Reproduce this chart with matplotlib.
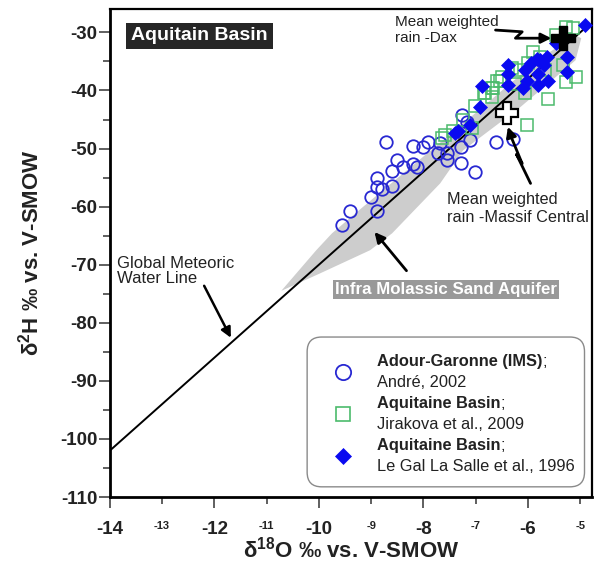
import matplotlib
matplotlib.use("Agg")
import matplotlib.pyplot as plt
from matplotlib.patches import Polygon, FancyBboxPatch
from matplotlib.ticker import FixedLocator, MultipleLocator, NullFormatter

plt.rcParams['font.family'] = ['Liberation Sans', 'DejaVu Sans']
plt.rcParams['axes.unicode_minus'] = False
plt.rcParams['mathtext.fontset'] = 'custom'
plt.rcParams['mathtext.rm'] = 'Liberation Sans'
plt.rcParams['mathtext.bf'] = 'Liberation Sans:bold'

# ---- data -------------------------------------------------------------
# Adour-Garonne (IMS); André, 2002
adour_o18 = [-9.56, -9.40, -9.00, -8.89, -8.79, -8.89, -8.60, -8.89, -8.60, -8.50,
             -8.39, -8.71, -8.20, -8.20, -8.12, -8.00, -7.91, -7.72, -7.54, -7.54,
             -7.29, -7.01, -7.29, -7.26, -7.16, -6.62, -6.28, -7.10, -7.68]
adour_h2 = [-63.2, -60.8, -58.4, -56.7, -56.9, -55.1, -56.5, -60.8, -53.8, -51.9,
            -53.1, -48.8, -49.6, -52.7, -53.2, -49.8, -48.8, -50.7, -50.7, -52.0,
            -52.5, -54.1, -49.8, -44.3, -45.5, -48.8, -48.4, -48.6, -49.1]

# Aquitaine Basin; Jirakova et al., 2009
jirakova_o18 = [-5.13, -5.28, -5.47, -5.90, -5.76, -5.99, -6.15, -6.30, -6.49, -6.59,
                -6.66, -6.85, -6.24, -6.05, -5.61, -5.28, -5.09, -5.32, -5.67, -6.01,
                -7.58, -7.64, -7.43, -7.01, -6.82, -6.68, -6.53, -7.24, -7.07, -6.68]
jirakova_h2 = [-29.3, -29.0, -30.5, -33.4, -34.3, -35.2, -36.5, -36.2, -37.7, -38.3,
               -39.6, -40.5, -38.8, -40.5, -41.4, -38.6, -37.7, -35.7, -36.5, -46.0,
               -47.7, -48.1, -46.9, -42.6, -40.5, -39.5, -38.3, -45.1, -46.4, -41.2]

# Aquitaine Basin; Le Gal La Salle et al., 1996
legal_o18 = [-4.90, -5.47, -5.25, -5.25, -5.76, -5.82, -5.63, -5.70, -5.95, -6.38,
             -6.38, -6.05, -5.80, -5.61, -6.01, -6.09, -6.39, -5.80, -6.87, -6.91,
             -7.10, -7.33, -7.39]
legal_h2 = [-28.8, -31.9, -34.3, -36.9, -34.8, -34.5, -34.3, -35.7, -35.2, -35.7,
            -37.1, -36.5, -37.1, -38.3, -38.3, -39.6, -39.1, -39.1, -39.3, -42.9,
            -46.0, -46.9, -47.4]

# Mean weighted rain
dax_o18, dax_h2 = -5.32, -30.9
massif_o18, massif_h2 = -6.41, -43.9

# Global Meteoric Water Line: d2H = 8 d18O + 10
gmwl_slope, gmwl_intercept = 8.0, 10.0
gmwl_range = [-14.0, -4.9]

# Infra Molassic Sand Aquifer envelope (d18O, d2H)
aquifer_o18 = [-10.72, -10.05, -9.75, -9.15, -8.35, -7.15, -6.30, -5.60, -5.10,
               -4.98, -5.09, -6.15, -7.24, -7.68, -8.60, -9.02, -9.98]
aquifer_h2 = [-74.5, -67.5, -64.6, -60.0, -54.0, -45.0, -38.5, -33.5, -30.5,
              -31.0, -34.8, -42.9, -50.3, -56.0, -64.6, -67.5, -71.5]

x_major = [-14, -12, -10, -8, -6]
x_minor = [-13, -11, -9, -7, -5]
y_major = [-110, -100, -90, -80, -70, -60, -50, -40, -30]

# ---- figure -----------------------------------------------------------
TXT = '#222222'
fig = plt.figure(figsize=(5.97, 5.72), dpi=100)
ax = fig.add_axes([0.184, 0.131, 0.808, 0.853])
ax.set_xlim(-14, -4.77)
ax.set_ylim(-110, -26.0)

# aquifer envelope
ax.add_patch(Polygon(list(zip(aquifer_o18, aquifer_h2)), closed=True,
                     facecolor='#cdcdcd', edgecolor='none', zorder=1))

# GMWL
gx = gmwl_range
gy = [gmwl_slope * v + gmwl_intercept for v in gx]
ax.plot(gx, gy, color='black', lw=1.4, zorder=2)

ax.plot(adour_o18, adour_h2, 'o', ms=9, mfc='none', mec='#2828d2', mew=1.3, zorder=3)
ax.plot(jirakova_o18, jirakova_h2, 's', ms=8, mfc='none', mec='#4cbb6c', mew=1.1, zorder=4)
ax.plot(legal_o18, legal_h2, 'D', ms=6.8, mfc='#0a0af0', mec='#0a0af0', mew=0.5, zorder=5)

ax.plot(dax_o18, dax_h2, 'P', ms=17, mfc='black', mec='black', mew=1, zorder=7)
ax.plot(massif_o18, massif_h2, 'P', ms=16, mfc='white', mec='black', mew=1.6, zorder=7)

# ---- annotations ------------------------------------------------------
arrow_kw = dict(arrowstyle='-|>,head_length=0.6,head_width=0.3', color='black', lw=2)

ax.text(-8.54, -29.6, "Mean weighted\nrain -Dax", fontsize=11, color=TXT,
        va='center', ha='left', linespacing=1.15, zorder=8)
ax.plot([-6.62, -6.11, -6.24, -5.70], [-29.6, -29.9, -31.0, -31.0],
        color='black', lw=2, zorder=8, solid_capstyle='round')
ax.annotate("", xy=(-5.50, -31.0), xytext=(-5.75, -31.0), arrowprops=arrow_kw, zorder=8)

ax.text(-7.54, -60.3, "Mean weighted\nrain -Massif Central", fontsize=11.7, color=TXT,
        va='center', ha='left', linespacing=1.2, zorder=8)
ax.plot([-5.95, -6.22, -6.11, -6.33], [-56.0, -51.0, -52.6, -47.8],
        color='black', lw=2, zorder=8, solid_capstyle='round')
ax.annotate("", xy=(-6.40, -45.8), xytext=(-6.32, -48.0), arrowprops=arrow_kw, zorder=8)

ax.text(-13.87, -71.1, "Global Meteoric\nWater Line", fontsize=12, color=TXT,
        va='center', ha='left', linespacing=1.05, zorder=8)
ax.annotate("", xy=(-11.66, -83.0), xytext=(-12.22, -73.2),
            arrowprops=dict(arrow_kw, lw=1.8), zorder=8)

ax.text(-7.56, -74.2, "Infra Molassic Sand Aquifer", fontsize=12.2, fontweight='bold',
        color='white', ha='center', va='center', zorder=8,
        bbox=dict(boxstyle='square,pad=0.12', facecolor='#999999', edgecolor='none'))
ax.annotate("", xy=(-8.97, -64.0), xytext=(-8.29, -71.4), arrowprops=arrow_kw, zorder=8)

ax.text(0.186, 0.945, "Aquitain Basin", transform=ax.transAxes, fontsize=14,
        fontweight='bold', color='white', ha='center', va='center', zorder=8,
        bbox=dict(boxstyle='square,pad=0.25', facecolor='#262626', edgecolor='none'))

# ---- legend -----------------------------------------------------------
ax.add_patch(FancyBboxPatch((0.409, 0.021), 0.575, 0.307,
                            boxstyle='round,pad=0,rounding_size=0.03',
                            transform=ax.transAxes, facecolor='white',
                            edgecolor='#8a8a8a', lw=1.0, zorder=9))
legend_rows = [
    ('o', dict(mfc='none', mec='#2828d2', mew=1.3, ms=11), 0.256,
     "Adour-Garonne (IMS)", "André, 2002"),
    ('s', dict(mfc='none', mec='#4cbb6c', mew=1.2, ms=10), 0.170,
     "Aquitaine Basin", "Jirakova et al., 2009"),
    ('D', dict(mfc='#0a0af0', mec='#0a0af0', mew=0.5, ms=8), 0.084,
     "Aquitaine Basin", "Le Gal La Salle et al., 1996"),
]
for mk, style, yc, bold_txt, reg_txt in legend_rows:
    ax.plot([0.483], [yc], mk, transform=ax.transAxes, clip_on=False, zorder=10, **style)
    t = ax.text(0.553, yc + 0.021, bold_txt, transform=ax.transAxes, fontsize=11.8,
                fontweight='bold', color=TXT, ha='left', va='center', zorder=10)
    ax.annotate(";", xy=(1, 0), xycoords=t, fontsize=11.8, color=TXT,
                ha='left', va='bottom', zorder=10)
    ax.text(0.553, yc - 0.021, reg_txt, transform=ax.transAxes, fontsize=11.8,
            color=TXT, ha='left', va='center', zorder=10)

# ---- axes styling -----------------------------------------------------
for side in ['left', 'bottom']:
    ax.spines[side].set_linewidth(2.0)
for side in ['top', 'right']:
    ax.spines[side].set_linewidth(1.6)

ax.xaxis.set_major_locator(FixedLocator(x_major))
ax.xaxis.set_minor_locator(FixedLocator(x_minor))
ax.set_xticklabels([str(v) for v in x_major], fontsize=13.5, fontweight='bold', color=TXT)
ax.set_xticklabels([str(v) for v in x_minor], minor=True, fontsize=8,
                   fontweight='bold', color=TXT)
ax.yaxis.set_major_locator(FixedLocator(y_major))
ax.yaxis.set_minor_locator(MultipleLocator(5))
ax.yaxis.set_minor_formatter(NullFormatter())
ax.set_yticklabels([str(v) for v in y_major], fontsize=13.5, fontweight='bold', color=TXT)

ax.tick_params(axis='both', which='both', direction='out', width=1.2, color='#444444')
ax.tick_params(axis='x', which='major', length=8, pad=9)
ax.tick_params(axis='x', which='minor', length=5, pad=12)
ax.tick_params(axis='y', which='major', length=8, pad=1)
ax.tick_params(axis='y', which='minor', length=5)

ax.set_xlabel(r"δ$^{\mathbf{18}}$O ‰ vs. V-SMOW", fontsize=16, fontweight='bold',
              color=TXT, labelpad=-1)
ax.set_ylabel(r"δ$^{\mathbf{2}}$H ‰ vs. V-SMOW", fontsize=16, fontweight='bold',
              color=TXT, labelpad=12)

fig.savefig("out.png", dpi=100)
